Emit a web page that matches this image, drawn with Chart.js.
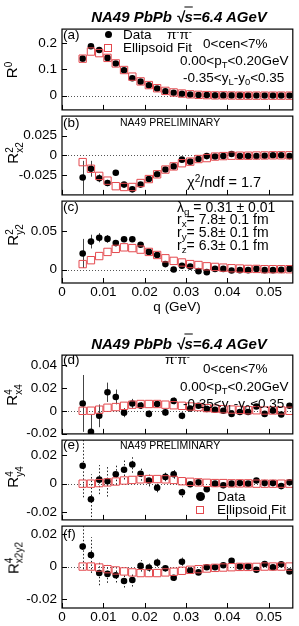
<!DOCTYPE html>
<html>
<head>
<meta charset="utf-8">
<script src="https://cdn.jsdelivr.net/npm/chart.js@4.4.1/dist/chart.umd.min.js"></script>
<style>
  body { margin: 0; background: #fff; }
  #fig { position: relative; width: 299px; height: 626px; overflow: hidden;
         font-family: "Liberation Sans", Arial, sans-serif; color: #000; }
  canvas { position: absolute; left: 0; }
  .t { position: absolute; white-space: nowrap; line-height: 1; font-size: 13.5px; transform: translateY(-50%); }
  .t sub { font-size: 0.7em; vertical-align: -0.3em; line-height: 0; }
  .t sup { font-size: 0.7em; vertical-align: 0.5em; line-height: 0; }
  .title { font-size: 15px; font-weight: bold; font-style: italic; transform: translate(-50%, -50%); }
  .ov { text-decoration: overline; }
  .prelim { font-size: 10.5px; }
  .lam { font-size: 14px; }
  .chi { font-size: 14.5px; }
  .yt { position: absolute; white-space: nowrap; line-height: 1; font-size: 15px;
        transform: translate(-50%, -50%) rotate(-90deg); }
  .ss { display: inline-block; font-size: 10px; line-height: 0.95; vertical-align: -4px; text-align: left; }
  .ss span { display: block; }
  .dot { position: absolute; border-radius: 50%; background: #000; }
  .sq { position: absolute; border: 1px solid #e4494e; box-sizing: border-box; }
</style>
</head>
<body>
<div id="fig">
  <!-- top figure -->
  <div class="t title" style="left:179px;top:16px">NA49 PbPb √<span class="ov">s</span>=6.4 AGeV</div>
  <div class="t" style="left:63px;top:35px">(a)</div>
  <div class="dot" style="left:105px;top:31px;width:7px;height:7px"></div>
  <div class="t" style="left:123px;top:35px">Data</div>
  <div class="t" style="left:167px;top:35px">π<sup>-</sup>π<sup>-</sup></div>
  <div class="sq" style="left:104px;top:44px;width:8px;height:8px"></div>
  <div class="t" style="left:123px;top:48px">Ellipsoid Fit</div>
  <div class="t" style="left:203px;top:44px">0&lt;cen&lt;7%</div>
  <div class="t" style="left:180px;top:61px">0.00&lt;p<sub>T</sub>&lt;0.20GeV</div>
  <div class="t" style="left:183px;top:78px">-0.35&lt;y<sub>L</sub>-y<sub>0</sub>&lt;0.35</div>
  <div class="t" style="left:63px;top:123px">(b)</div>
  <div class="t prelim" style="left:120px;top:122px">NA49 PRELIMINARY</div>
  <div class="t chi" style="left:187px;top:182px">χ<sup>2</sup>/ndf = 1.7</div>
  <div class="t" style="left:63px;top:207px">(c)</div>
  <div class="t lam" style="left:177px;top:207px">λ<sub>g</sub> = 0.31 ± 0.01</div>
  <div class="t lam" style="left:177px;top:219px">r<sub>x</sub>= 7.8± 0.1 fm</div>
  <div class="t lam" style="left:177px;top:232px">r<sub>y</sub>=  5.8± 0.1 fm</div>
  <div class="t lam" style="left:177px;top:244.5px">r<sub>z</sub>=  6.3± 0.1 fm</div>
  <div class="t" style="left:177px;top:307px;transform:translate(-50%,-50%)">q (GeV)</div>
  <div class="yt" style="left:13px;top:70px">R<span class="ss"><span>0</span><span>&nbsp;</span></span></div>
  <div class="yt" style="left:14px;top:153px">R<span class="ss"><span>2</span><span>x2</span></span></div>
  <div class="yt" style="left:14px;top:235px">R<span class="ss"><span>2</span><span>y2</span></span></div>

  <!-- bottom figure -->
  <div class="t title" style="left:179px;top:343px">NA49 PbPb √<span class="ov">s</span>=6.4 AGeV</div>
  <div class="t" style="left:63px;top:360px">(d)</div>
  <div class="t" style="left:165px;top:360px">π<sup>-</sup>π<sup>-</sup></div>
  <div class="t" style="left:203px;top:369px">0&lt;cen&lt;7%</div>
  <div class="t" style="left:180px;top:387px">0.00&lt;p<sub>T</sub>&lt;0.20GeV</div>
  <div class="t" style="left:183px;top:404px">-0.35&lt;y<sub>L</sub>-y<sub>0</sub>&lt;0.35</div>
  <div class="t" style="left:63px;top:445px">(e)</div>
  <div class="t prelim" style="left:120px;top:445px">NA49 PRELIMINARY</div>
  <div class="dot" style="left:196px;top:492px;width:9px;height:9px"></div>
  <div class="t" style="left:217px;top:497px">Data</div>
  <div class="sq" style="left:196px;top:506px;width:8px;height:8px"></div>
  <div class="t" style="left:217px;top:510px">Ellipsoid Fit</div>
  <div class="t" style="left:63px;top:534px">(f)</div>
  <div class="t" style="left:177px;top:632px;transform:translate(-50%,-50%)">q (GeV)</div>
  <div class="yt" style="left:13px;top:395px">R<span class="ss"><span>4</span><span>x4</span></span></div>
  <div class="yt" style="left:14px;top:477px">R<span class="ss"><span>4</span><span>y4</span></span></div>
  <div class="yt" style="left:14px;top:558px">R<span class="ss"><span>4</span><span>x2y2</span></span></div>
</div>

<script>
// q bins (GeV)
const q = [0.005, 0.007, 0.009, 0.011, 0.013, 0.015, 0.017, 0.019, 0.021, 0.023, 0.025, 0.027, 0.029,
           0.031, 0.033, 0.035, 0.037, 0.039, 0.041, 0.043, 0.045, 0.047, 0.049, 0.051, 0.053, 0.055];

// (a) R0
const r0Data = [0.140, 0.187, 0.173, 0.143, 0.122, 0.096, 0.066, 0.053, 0.039, 0.027, 0.016, 0.011, 0.007,
                0.004, 0.002, 0.002, 0.001, 0.001, 0.001, 0.001, 0.0005, 0.0005, 0.0005, 0.0005, 0.0005, 0.0005];
const r0Fit  = [0.140, 0.167, 0.161, 0.143, 0.122, 0.097, 0.072, 0.054, 0.040, 0.028, 0.018, 0.012, 0.008,
                0.005, 0.003, 0.002, 0.001, 0.001, 0.0005, 0, 0, 0, 0, 0, 0, 0];

// (b) R2 x2
const rx2Data = [-0.028, -0.017, -0.029, -0.035, -0.022, -0.037, -0.043, -0.037, -0.030, -0.024, -0.018, -0.014, -0.0055,
                 -0.008, -0.0047, -0.001, -0.0016, -0.001, 0.0016, -0.001, -0.001, -0.001, -0.0005, 0, 0, -0.001];
const rx2Fit  = [-0.0086, -0.017, -0.026, -0.032, -0.039, -0.040, -0.040, -0.035, -0.030, -0.024, -0.018, -0.014, -0.010,
                 -0.008, -0.0047, -0.0035, -0.0016, -0.001, -0.0005, -0.0005, -0.0005, -0.0003, -0.0002, 0, 0, 0];
const rx2Err  = [0.021, 0.010, 0.005, 0.004, 0.003, 0.003, 0.002, 0.002, 0.0015, 0.0015, 0.0015, 0.0015, 0.0015,
                 0.001, 0.001, 0.001, 0.001, 0.001, 0.001, 0.001, 0.001, 0.001, 0.001, 0.001, 0.001, 0.001];

// (c) R2 y2
const ry2Data = [0.021, 0.0365, 0.0416, 0.040, 0.0345, 0.0395, 0.0395, 0.0323, 0.023, 0.0189, 0.0071, 0.0, 0.005,
                 0.0038, -0.0021, -0.0034, 0.0008, 0.0008, -0.0013, -0.0008, -0.0008, 0.0008, -0.0008, -0.0008, -0.0004, 0.0008];
const ry2Fit  = [0.0071, 0.0122, 0.0176, 0.023, 0.027, 0.029, 0.028, 0.026, 0.023, 0.019, 0.0147, 0.0113, 0.0092,
                 0.0071, 0.0059, 0.0042, 0.0034, 0.0025, 0.0017, 0.0013, 0.0008, 0.0008, 0.0004, 0.0004, 0.0004, 0.0004];
const ry2Err  = [0.019, 0.009, 0.006, 0.005, 0.004, 0.003, 0.003, 0.003, 0.002, 0.002, 0.002, 0.002, 0.002,
                 0.0015, 0.0015, 0.0015, 0.001, 0.001, 0.001, 0.001, 0.001, 0.001, 0.001, 0.001, 0.001, 0.001];

// (d) R4 x4
const rx4Data = [0.0065, -0.0185, -0.0044, 0.0163, 0.0122, -0.0016, 0.0065, 0.0046, -0.0027, 0.006, -0.0014, 0.0087, -0.0044,
                 0.002, 0.0044, 0.0016, 0.001, 0, -0.0027, -0.0011, -0.0011, 0.0038, -0.0027, 0, -0.0033, 0.0044];
const rx4Fit  = [0, 0.0001, 0.001, 0.0027, 0.0033, 0.0044, 0.0054, 0.006, 0.006, 0.006, 0.0054, 0.0049, 0.0044,
                 0.0038, 0.0033, 0.0024, 0.0019, 0.0014, 0.0011, 0.0008, 0.0005, 0.0005, 0.0003, 0.0003, 0.0003, 0];
const rx4Err  = [0.025, 0.015, 0.010, 0.0085, 0.0065, 0.004, 0.004, 0.003, 0.003, 0.003, 0.003, 0.003, 0.003,
                 0.002, 0.002, 0.002, 0.002, 0.002, 0.002, 0.002, 0.002, 0.002, 0.002, 0.002, 0.002, 0.002];

// (e) R4 y4
const ry4Data = [0.0125, -0.0108, 0.0028, 0.0017, 0.0065, 0.0097, 0.0133, 0.0069, 0.0022, -0.0028, 0.0047, 0.0065, -0.006,
                 -0.0004, 0.0009, -0.0039, 0, -0.0011, 0, 0.0004, 0, 0.0022, 0.0004, 0.0004, -0.0017, 0.0009];
const ry4Fit  = [0, 0, 0.0004, 0.0009, 0.0015, 0.0022, 0.0026, 0.003, 0.0032, 0.0032, 0.003, 0.0026, 0.0017,
                 0.0013, 0.0009, 0.0006, 0.0004, 0.0004, 0.0002, 0.0002, 0.0002, 0, 0, 0, 0, 0];
const ry4Err  = [0.022, 0.0173, 0.0101, 0.0107, 0.0072, 0.0068, 0.0057, 0.0048, 0.0041, 0.0032, 0.003, 0.003, 0.0035,
                 0.002, 0.002, 0.002, 0.002, 0.002, 0.002, 0.002, 0.002, 0.002, 0.002, 0.002, 0.002, 0.002];

// (f) R4 x2y2
const rxyData = [0.0123, 0.0071, -0.004, -0.0045, -0.0053, -0.0089, -0.0083, 0.0004, -0.0006, 0.0024, -0.001, -0.0069, 0.003,
                 -0.0024, -0.0036, -0.0004, -0.0004, 0.0008, 0.0036, 0, 0, -0.002, 0.0016, -0.0004, 0.0014, -0.003];
const rxyFit  = [0, 0, -0.0006, -0.0016, -0.0024, -0.003, -0.0036, -0.004, -0.004, -0.004, -0.0036, -0.0032, -0.0026,
                 -0.002, -0.0016, -0.0012, -0.0008, -0.0006, -0.0004, -0.0002, -0.0002, -0.0002, 0, 0, 0, 0];
const rxyErr  = [0.014, 0.011, 0.0075, 0.0055, 0.0045, 0.004, 0.004, 0.0035, 0.0025, 0.0025, 0.002, 0.002, 0.0025,
                 0.0015, 0.0015, 0.0015, 0.0015, 0.0015, 0.0015, 0.0015, 0.0015, 0.0015, 0.0015, 0.0015, 0.0015, 0.0015];

// tick labels
const qTicks = [0, 0.01, 0.02, 0.03, 0.04, 0.05];
const qTickLabels = ["0", "0.01", "0.02", "0.03", "0.04", "0.05"];
const r0Ticks = [0, 0.1, 0.2];
const r0TickLabels = ["0", "0.1", "0.2"];
const r2xTicks = [-0.025, 0, 0.025];
const r2xTickLabels = ["-0.025", "0", "0.025"];
const r2yTicks = [0, 0.05];
const r2yTickLabels = ["0", "0.05"];
const r4xTicks = [-0.02, 0, 0.02, 0.04];
const r4xTickLabels = ["-0.02", "0", "0.02", "0.04"];
const r4Ticks = [-0.02, 0, 0.02];
const r4TickLabels = ["-0.02", "0", "0.02"];

Chart.defaults.font.family = "'Liberation Sans', Arial, sans-serif";
Chart.defaults.color = "#000";

const FIT_RED = "#e4494e";

// panel frames and ticks, zero line, error bars
const decor = {
  id: "decor",
  beforeDatasetsDraw(chart, args, opts) {
    const { ctx, chartArea: a, scales: { x, y } } = chart;
    ctx.save();
    ctx.beginPath();
    ctx.rect(a.left, a.top, a.right - a.left, a.bottom - a.top);
    ctx.clip();
    const y0 = Math.round(y.getPixelForValue(0)) + 0.5;
    ctx.setLineDash([1, 2]);
    ctx.strokeStyle = "#555";
    ctx.lineWidth = 1;
    ctx.beginPath();
    ctx.moveTo(a.left, y0);
    ctx.lineTo(a.right, y0);
    ctx.stroke();
    if (opts.err) {
      ctx.setLineDash(opts.dotted ? [1.5, 2] : []);
      ctx.strokeStyle = opts.dotted ? "#222" : "#444";
      opts.err.forEach((e, i) => {
        const px = Math.round(x.getPixelForValue(q[i])) + 0.5;
        const v = opts.values[i];
        ctx.beginPath();
        ctx.moveTo(px, y.getPixelForValue(v - e));
        ctx.lineTo(px, y.getPixelForValue(v + e));
        ctx.stroke();
      });
    }
    ctx.restore();
  },
  afterDraw(chart, args, opts) {
    const { ctx, chartArea: a, scales: { x, y } } = chart;
    ctx.save();
    ctx.strokeStyle = "#000";
    ctx.lineWidth = 1.2;
    ctx.strokeRect(a.left, a.top, a.right - a.left, a.bottom - a.top);
    ctx.lineWidth = 1;
    ctx.beginPath();
    qTicks.forEach((v) => {
      const px = Math.round(x.getPixelForValue(v)) + 0.5;
      ctx.moveTo(px, a.bottom);
      ctx.lineTo(px, a.bottom - 5);
    });
    opts.yTicks.forEach((v) => {
      const py = Math.round(y.getPixelForValue(v)) + 0.5;
      ctx.moveTo(a.left, py);
      ctx.lineTo(a.left + 5, py);
    });
    ctx.stroke();
    ctx.restore();
  },
};

const panels = [
  { top: 26,  h: 87, data: r0Data,  fit: r0Fit,  err: null,   dotted: false, min: -0.054,  max: 0.252,  ticks: r0Ticks,  labels: r0TickLabels,  xAxis: false },
  { top: 113, h: 85, data: rx2Data, fit: rx2Fit, err: rx2Err, dotted: false, min: -0.05,   max: 0.0495, ticks: r2xTicks, labels: r2xTickLabels, xAxis: false },
  { top: 198, h: 85, data: ry2Data, fit: ry2Fit, err: ry2Err, dotted: false, min: -0.0176, max: 0.0894, ticks: r2yTicks, labels: r2yTickLabels, xAxis: true },
  { top: 352, h: 85, data: rx4Data, fit: rx4Fit, err: rx4Err, dotted: false, min: -0.0203, max: 0.049,  ticks: r4xTicks, labels: r4xTickLabels, xAxis: false },
  { top: 437, h: 86, data: ry4Data, fit: ry4Fit, err: ry4Err, dotted: true,  min: -0.0252, max: 0.0303, ticks: r4Ticks,  labels: r4TickLabels,  xAxis: false },
  { top: 523, h: 85, data: rxyData, fit: rxyFit, err: rxyErr, dotted: true,  min: -0.0255, max: 0.0249, ticks: r4Ticks,  labels: r4TickLabels,  xAxis: true },
];

const fig = document.getElementById("fig");
const firstText = fig.firstElementChild;

panels.forEach((p) => {
  const padTop = 10;
  const padBottom = p.xAxis ? 0 : 10;
  const xAxisH = p.xAxis ? 30 : 0;
  const canvas = document.createElement("canvas");
  canvas.width = 299;
  canvas.height = padTop + p.h + padBottom + xAxisH;
  canvas.style.top = (p.top - padTop) + "px";
  fig.insertBefore(canvas, firstText);

  new Chart(canvas.getContext("2d"), {
    type: "scatter",
    data: {
      datasets: [
        {
          label: "Ellipsoid Fit",
          data: q.map((v, i) => ({ x: v, y: p.fit[i] })),
          pointStyle: "rect",
          pointRadius: 5.2,
          borderColor: FIT_RED,
          backgroundColor: "rgba(0,0,0,0)",
          borderWidth: 1,
        },
        {
          label: "Data",
          data: q.map((v, i) => ({ x: v, y: p.data[i] })),
          pointStyle: "circle",
          pointRadius: 3.3,
          backgroundColor: "#000",
          borderColor: "#000",
          borderWidth: 0,
        },
      ],
    },
    options: {
      animation: false,
      responsive: false,
      events: [],
      layout: { padding: { top: padTop, bottom: padBottom, left: 0, right: 6 } },
      plugins: {
        legend: { display: false },
        tooltip: { enabled: false },
        decor: { err: p.err, values: p.data, dotted: p.dotted, yTicks: p.ticks },
      },
      scales: {
        x: {
          type: "linear",
          min: 0,
          max: 0.0558,
          display: p.xAxis,
          grid: { display: false, drawTicks: false },
          border: { display: false },
          afterBuildTicks: (s) => { s.ticks = qTicks.map((v) => ({ value: v })); },
          afterFit: (s) => { s.height = xAxisH; },
          ticks: {
            padding: 1,
            maxRotation: 0,
            autoSkip: false,
            font: { size: 13.5 },
            callback: (v, i) => qTickLabels[i],
          },
        },
        y: {
          type: "linear",
          min: p.min,
          max: p.max,
          grid: { display: false, drawTicks: false },
          border: { display: false },
          afterBuildTicks: (s) => { s.ticks = p.ticks.map((v) => ({ value: v })); },
          afterFit: (s) => { s.width = 62; },
          ticks: {
            padding: 5,
            font: { size: 13.5 },
            callback: (v, i) => p.labels[i],
          },
        },
      },
    },
    plugins: [decor],
  });
});
</script>
</body>
</html>
